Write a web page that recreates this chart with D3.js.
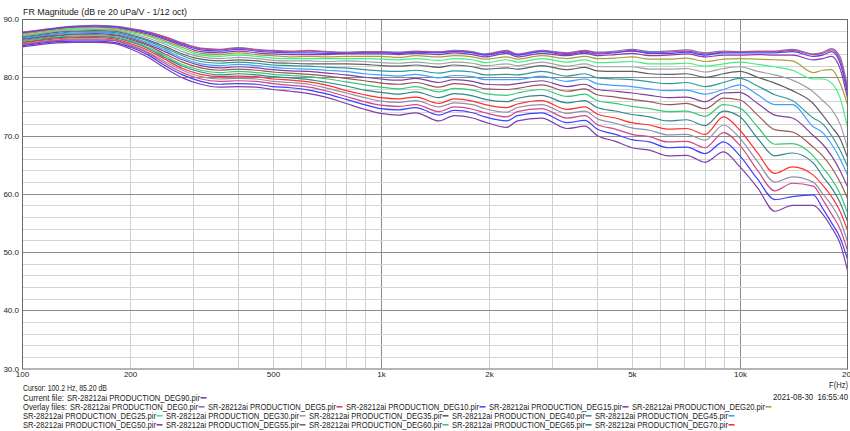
<!DOCTYPE html>
<html><head><meta charset="utf-8">
<script src="https://cdn.jsdelivr.net/npm/d3@7"></script>
<style>body{margin:0;background:#fff}svg{display:block;font-family:Arial,"Liberation Sans",sans-serif}</style>
</head><body><svg id="c" width="850" height="431"></svg>
<script>
const freqs = [100,112,125,140,160,180,200,225,250,280,315,355,400,450,500,560,630,710,800,900,1000,1120,1250,1450,1600,1800,1950,2240,2400,2800,3300,3700,4000,4500,5000,5600,6300,7100,8000,9000,10000,11200,12500,14000,16000,17000,18000,19000,20000];

const deg0  = [87.7,88.1,88.5,88.8,88.9,88.8,88.4,87.8,87.0,85.9,85.0,84.8,85.1,84.8,84.6,84.5,84.6,84.4,84.3,84.4,84.4,84.3,84.5,84.4,84.6,84.4,84.0,84.6,84.0,84.6,84.2,84.6,84.3,84.5,84.8,84.4,84.5,84.7,84.2,84.5,84.4,84.5,84.5,84.8,84.0,84.3,84.9,83.5,77.8];
const deg5  = [87.7,88.1,88.4,88.7,88.8,88.7,88.3,87.7,86.9,85.8,84.9,84.7,85.0,84.7,84.5,84.4,84.5,84.3,84.2,84.3,84.3,84.2,84.4,84.3,84.5,84.3,83.9,84.5,83.9,84.5,84.1,84.5,84.2,84.3,84.6,84.2,84.3,84.5,84.0,84.3,84.3,84.4,84.4,84.6,83.9,84.1,84.7,83.0,77.3];
const deg10 = [87.6,88.0,88.4,88.7,88.8,88.7,88.2,87.6,86.7,85.6,84.7,84.5,84.8,84.5,84.3,84.2,84.2,84.1,84.1,84.2,84.2,84.1,84.3,84.2,84.4,84.2,83.8,84.3,83.8,84.4,83.9,84.3,84.0,84.2,84.5,84.1,84.1,84.3,83.8,84.2,84.2,84.2,84.2,84.4,83.6,83.8,84.4,82.5,76.8];
const deg15 = [87.5,87.9,88.3,88.6,88.6,88.5,88.1,87.4,86.5,85.4,84.4,84.2,84.5,84.2,84.0,83.9,83.9,83.9,84.0,84.0,84.0,83.9,84.1,83.9,84.2,83.9,83.5,84.1,83.5,84.1,83.7,84.1,83.7,83.9,84.1,83.7,83.8,84.0,83.5,83.8,83.8,83.9,83.8,83.8,83.0,83.2,83.6,81.5,76.0];
const deg20 = [87.4,87.8,88.1,88.4,88.5,88.4,87.9,87.2,86.2,85.1,84.1,83.9,84.2,83.9,83.7,83.5,83.6,83.5,83.6,83.6,83.6,83.4,83.7,83.5,83.7,83.5,83.1,83.5,83.1,83.7,83.2,83.6,83.2,83.3,83.5,83.1,83.1,83.3,82.7,83.1,83.2,83.1,83.0,82.8,80.8,81.2,81.3,79.0,75.0];
const deg25 = [87.2,87.6,88.0,88.3,88.3,88.2,87.7,87.0,86.0,84.8,83.8,83.6,83.8,83.6,83.3,83.2,83.2,83.2,83.2,83.2,83.1,83.0,83.2,82.9,83.2,83.0,82.5,83.0,82.6,83.2,82.6,83.0,82.5,82.6,82.7,82.3,82.3,82.4,81.9,82.3,82.6,82.2,81.8,81.2,79.7,79.7,79.0,76.5,71.0];
const deg30 = [87.1,87.5,87.9,88.1,88.2,88.1,87.5,86.7,85.7,84.4,83.5,83.2,83.4,83.2,82.9,82.8,82.8,82.7,82.8,82.7,82.5,82.4,82.6,82.3,82.6,82.4,82.0,82.3,82.0,82.6,81.9,82.3,81.8,81.8,81.8,81.4,81.4,81.5,80.9,81.5,81.8,81.0,80.4,79.5,77.5,76.0,74.5,72.0,67.5];
const deg35 = [86.9,87.3,87.7,87.9,88.0,87.9,87.3,86.4,85.3,84.0,83.1,82.8,83.0,82.8,82.5,82.4,82.3,82.3,82.3,82.2,82.0,81.9,82.1,81.7,82.1,81.8,81.4,81.6,81.4,82.0,81.3,81.7,81.1,81.0,81.0,80.6,80.5,80.6,80.0,80.6,81.0,80.0,79.0,77.7,75.5,73.5,71.5,69.5,66.0];
const deg40 = [86.8,87.2,87.5,87.8,87.8,87.7,87.1,86.2,85.0,83.7,82.7,82.4,82.6,82.4,82.1,82.0,81.9,81.7,81.6,81.3,81.1,81.0,81.2,80.7,81.1,80.9,80.4,80.5,80.4,81.0,80.2,80.6,79.9,79.7,79.6,79.2,78.9,79.1,78.4,79.1,79.8,78.5,77.0,76.0,73.0,72.0,70.0,67.5,64.5];
const deg45 = [86.6,87.0,87.4,87.6,87.7,87.5,86.9,85.9,84.7,83.3,82.3,82.0,82.2,82.0,81.7,81.5,81.4,81.2,81.0,80.6,80.4,80.2,80.5,79.9,80.3,80.1,79.6,79.6,79.6,80.2,79.3,79.7,78.9,78.6,78.4,78.0,77.7,77.8,77.1,77.9,78.7,77.0,75.3,75.3,71.5,70.5,68.5,66.0,63.0];
const deg50 = [86.5,86.9,87.2,87.4,87.5,87.3,86.7,85.6,84.4,83.0,82.0,81.6,81.8,81.6,81.3,81.1,81.0,80.7,80.4,80.0,79.7,79.5,79.8,79.1,79.6,79.3,78.8,78.7,78.9,79.4,78.4,78.8,77.9,77.6,77.3,76.9,76.5,76.6,75.8,77.3,77.4,75.5,73.5,73.0,70.0,68.5,66.5,64.0,61.0];
const deg55 = [86.3,86.7,87.1,87.3,87.3,87.2,86.5,85.4,84.0,82.6,81.6,81.2,81.4,81.2,80.9,80.7,80.5,80.2,79.8,79.4,79.0,78.8,79.1,78.3,78.9,78.6,78.0,77.9,78.1,78.7,77.6,78.0,77.0,76.6,76.2,75.8,75.3,75.5,74.6,76.4,76.1,73.5,71.0,70.6,68.0,66.5,64.5,62.0,59.0];
const deg60 = [86.2,86.6,86.9,87.1,87.1,87.0,86.3,85.1,83.7,82.2,81.2,80.8,81.0,80.8,80.5,80.3,80.1,79.7,79.2,78.7,78.3,78.0,78.4,77.5,78.1,77.8,77.2,76.9,77.3,77.9,76.7,77.1,76.0,75.5,75.0,74.6,74.1,74.2,73.3,75.3,74.7,71.5,68.5,68.6,66.5,64.5,62.5,60.0,56.5];
const deg65 = [86.0,86.4,86.8,86.9,87.0,86.8,86.1,84.9,83.4,81.9,80.9,80.4,80.6,80.4,80.1,79.9,79.6,79.1,78.5,77.8,77.4,77.1,77.5,76.5,77.2,76.8,76.2,75.8,76.4,76.9,75.6,76.0,74.8,74.2,73.6,73.2,72.5,72.7,71.7,74.2,73.2,69.5,66.5,67.0,65.3,63.0,61.0,58.5,55.0];
const deg70 = [85.9,86.3,86.6,86.8,86.8,86.6,85.8,84.6,83.1,81.5,80.5,80.1,80.2,80.1,79.7,79.5,79.2,78.6,77.7,77.0,76.5,76.3,76.6,75.5,76.3,75.9,75.3,74.8,75.4,76.0,74.5,74.9,73.7,73.0,72.2,71.8,71.1,71.2,70.2,73.2,70.9,67.0,63.5,64.6,63.2,61.5,59.5,57.0,53.5];
const deg75 = [85.7,86.1,86.4,86.6,86.6,86.4,85.6,84.3,82.7,81.2,80.1,79.7,79.8,79.7,79.3,79.1,78.8,78.1,77.3,76.5,75.9,75.7,76.0,74.9,75.6,75.3,74.6,74.0,74.8,75.3,73.8,74.2,72.9,72.1,71.3,70.9,70.1,70.2,69.2,71.8,69.5,65.5,62.0,62.9,62.0,60.0,58.0,55.5,51.5];
const deg80 = [85.6,86.0,86.3,86.4,86.4,86.3,85.4,84.1,82.4,80.8,79.7,79.3,79.4,79.3,78.9,78.6,78.3,77.6,76.7,75.8,75.2,75.0,75.3,74.1,74.9,74.5,73.9,73.2,74.1,74.6,73.0,73.4,71.9,71.1,70.2,69.8,68.9,69.0,67.9,70.5,68.3,64.0,60.5,61.8,61.3,59.0,56.5,54.0,50.0];
const deg85 = [85.4,85.8,86.1,86.2,86.2,86.0,85.2,83.8,82.0,80.4,79.3,78.8,78.9,78.8,78.4,78.2,77.8,77.1,76.2,75.3,74.6,74.4,74.8,73.5,74.3,73.9,73.2,72.5,73.4,73.9,72.2,72.6,71.1,70.2,69.3,68.9,67.9,68.0,66.9,68.9,66.5,62.5,59.0,59.5,59.8,57.5,55.0,52.5,48.5];
const deg90 = [85.2,85.6,85.9,86.0,86.0,85.8,84.9,83.4,81.6,79.9,78.8,78.3,78.4,78.3,77.9,77.6,77.2,76.5,75.5,74.5,73.8,73.5,73.9,72.5,73.4,73.0,72.3,71.4,72.5,73.0,71.2,71.6,70.0,69.0,67.9,67.5,66.5,66.6,65.4,67.2,64.6,61.0,57.0,58.0,58.0,56.5,54.2,51.5,46.5];

const seriesNames = ["DEG0","DEG5","DEG10","DEG15","DEG20","DEG25","DEG30","DEG35","DEG40","DEG45","DEG50","DEG55","DEG60","DEG65","DEG70","DEG75","DEG80","DEG85","DEG90"];
const seriesValues = [deg0,deg5,deg10,deg15,deg20,deg25,deg30,deg35,deg40,deg45,deg50,deg55,deg60,deg65,deg70,deg75,deg80,deg85,deg90];
const seriesColors = ["#7878b8","#d8407c","#4848ff","#8a40a8","#a8a040","#40f080","#a0a0a8","#606060","#309898","#40a0ff","#8040a0","#985858","#38c878","#308888","#ff3030","#9090a8","#d04888","#4040ff","#8040a8"];
const yTicks = [30,40,50,60,70,80,90];
const xTickValues = [100,200,500,1000,2000,5000,10000,20000];
const xTickLabels = ["100","200","500","1k","2k","5k","10k","20k"];
const overlayRows = [[0,1,2,3,4],[5,6,7,8,9],[10,11,12,13,14]];
const currentIndex = 18;

const svg = d3.select("#c");
const L = 22, R = 848, T = 19, B = 368.5;
const x = d3.scaleLog().domain([100,20000]).range([L,R]);
const y = d3.scaleLinear().domain([30,90]).range([B,T]);
const FONT = "Arial,'Liberation Sans',sans-serif";

// grid
const minorX = [];
for (let d = 100; d < 20000; d *= 10) for (let k = 1; k < 10; k++) { const f = d*k; if (f > 100 && f < 20000) minorX.push(f); }
svg.append("g").selectAll("line").data(minorX).join("line")
  .attr("x1", d=>Math.round(x(d))+0.5).attr("x2", d=>Math.round(x(d))+0.5).attr("y1", T).attr("y2", B)
  .attr("stroke", d => (d===1000||d===10000) ? "#8c8c8c" : "#cfcfcf").attr("stroke-width",1);
const hLines = d3.range(32, 90, 2);
svg.append("g").selectAll("line").data(hLines).join("line")
  .attr("x1", L).attr("x2", R).attr("y1", d=>Math.round(y(d))+0.5).attr("y2", d=>Math.round(y(d))+0.5)
  .attr("stroke", d => d%10===0 ? "#8c8c8c" : "#d4d4d4").attr("stroke-width",1);

// curves
svg.append("defs").append("clipPath").attr("id","clip").append("rect").attr("x",L).attr("y",T).attr("width",R-L).attr("height",B-T);
const line = d3.line().x(d=>x(d[0])).y(d=>y(d[1])).curve(d3.curveMonotoneX);
const gc = svg.append("g").attr("clip-path","url(#clip)");
seriesValues.forEach((vals,i) => {
  const pts = freqs.map((f,j)=>[f, vals[j]]).filter(p=>p[1]!==undefined);
  gc.append("path").attr("d", line(pts)).attr("fill","none").attr("stroke", seriesColors[i]).attr("stroke-width",1.2).attr("stroke-linejoin","round");
});

// frame
svg.append("rect").attr("x",L+0.5).attr("y",T+0.5).attr("width",R-L-1).attr("height",B-T).attr("fill","none").attr("stroke","#6a6a6a");

// axes
const yAxis = d3.axisLeft(y).tickValues(yTicks).tickFormat(d3.format(".1f")).tickSize(0).tickPadding(3);
svg.append("g").attr("transform",`translate(${L},0)`).call(yAxis)
  .call(g=>g.select(".domain").remove())
  .selectAll("text").attr("font-size","8px").attr("fill","#222").style("font-family",FONT);
const xAxis = d3.axisBottom(x).tickValues(xTickValues).tickFormat((d,i)=>xTickLabels[i]).tickSize(0).tickPadding(3);
svg.append("g").attr("transform",`translate(0,${B})`).call(xAxis)
  .call(g=>g.select(".domain").remove())
  .selectAll("text").attr("font-size","8px").attr("fill","#222").style("font-family",FONT);

// texts
function fitText(xx, yy, s, w, size) {
  return svg.append("text").attr("x",xx).attr("y",yy).attr("font-size",(size||8.5)+"px").attr("fill","#222")
    .attr("textLength",w).attr("lengthAdjust","spacingAndGlyphs").style("white-space","pre").text(s);
}
fitText(23,15,"FR Magnitude (dB re 20 uPa/V - 1/12 oct)",164);
fitText(23,390.5,"Cursor: 100.2 Hz, 85.20 dB",84);
fitText(829,388,"F(Hz)",19);
fitText(773,399.5,"2021-08-30  16:55:40",75);

const TW1 = 128, TW2 = 133, DASH = 6, GAP = 4;
function entry(xx, yy, i) {
  const w = seriesNames[i].length > 4 ? TW2 : TW1;
  fitText(xx, yy, "SR-28212ai PRODUCTION_" + seriesNames[i] + ".pir", w);
  svg.append("rect").attr("x", xx + w + 0.5).attr("y", yy - 3.5).attr("width", DASH).attr("height", 1.6).attr("fill", seriesColors[i]);
  return xx + w + DASH + GAP;
}
fitText(23,400.5,"Current file:",41);
entry(67,400.5,currentIndex);
const rowY = [409.5,418.5,427.5];
overlayRows.forEach((row,r) => {
  let xx = 23;
  if (r === 0) { fitText(23,rowY[0],"Overlay files:",44); xx = 70; }
  row.forEach(i => { xx = entry(xx,rowY[r],i); });
});
</script></body></html>
